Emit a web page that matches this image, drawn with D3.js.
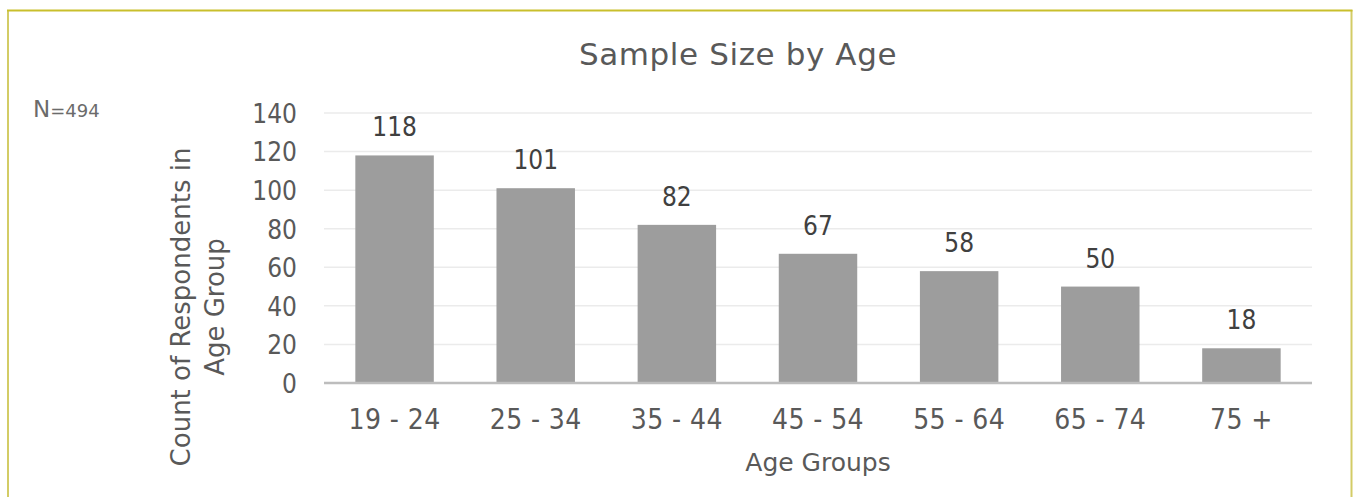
<!DOCTYPE html>
<html>
<head>
<meta charset="utf-8">
<script src="https://cdn.jsdelivr.net/npm/d3@7/dist/d3.min.js"></script>
<style>
  html, body { margin: 0; padding: 0; background: #fff; }
  svg { display: block; }
  text { font-family: "DejaVu Sans", Verdana, sans-serif; }
</style>
</head>
<body>
<svg id="chart" width="1353" height="497"></svg>
<script>
const categories = ["19 - 24", "25 - 34", "35 - 44", "45 - 54", "55 - 64", "65 - 74", "75 +"];
const counts = [118, 101, 82, 67, 58, 50, 18];
const yTicks = [0, 20, 40, 60, 80, 100, 120, 140];

const svg = d3.select("#chart");

// frame border
svg.append("line")
  .attr("x1", 8).attr("x2", 8).attr("y1", 10).attr("y2", 497)
  .attr("stroke", "#d3cc66").attr("stroke-width", 2);
svg.append("line")
  .attr("x1", 1351.5).attr("x2", 1351.5).attr("y1", 10).attr("y2", 497)
  .attr("stroke", "#d3cc66").attr("stroke-width", 2);
svg.append("line")
  .attr("x1", 7).attr("x2", 1352.5).attr("y1", 10.5).attr("y2", 10.5)
  .attr("stroke", "#c9bf2c").attr("stroke-width", 2);

const margin = { left: 324, right: 1312, top: 113, bottom: 383 };

const x = d3.scaleBand()
  .domain(categories)
  .range([margin.left, margin.right])
  .paddingInner(0.444)
  .paddingOuter(0.222);

const y = d3.scaleLinear()
  .domain([0, 140])
  .range([margin.bottom, margin.top]);

// gridlines
svg.append("g")
  .selectAll("line")
  .data(yTicks.filter(d => d > 0))
  .join("line")
  .attr("x1", margin.left)
  .attr("x2", margin.right)
  .attr("y1", d => y(d))
  .attr("y2", d => y(d))
  .attr("stroke", "#ebebeb")
  .attr("stroke-width", 1.5);

// bars
svg.append("g")
  .selectAll("rect")
  .data(counts)
  .join("rect")
  .attr("x", (d, i) => x(categories[i]))
  .attr("width", x.bandwidth())
  .attr("y", d => y(d))
  .attr("height", d => y(0) - y(d))
  .attr("fill", "#9d9d9d");

// baseline
svg.append("line")
  .attr("x1", margin.left)
  .attr("x2", margin.right)
  .attr("y1", y(0))
  .attr("y2", y(0))
  .attr("stroke", "#bdbdbd")
  .attr("stroke-width", 2.5);

// y axis
const yAxis = d3.axisLeft(y).tickValues(yTicks).tickSize(0).tickPadding(0);
const yg = svg.append("g")
  .attr("transform", `translate(297,0)`)
  .call(yAxis);
yg.select(".domain").remove();
yg.selectAll("text")
  .attr("fill", "#595959")
  .attr("font-size", 26)
  .attr("dy", "0.36em")
  .style("font-family", "DejaVu Sans Condensed, DejaVu Sans");

// x axis
const xAxis = d3.axisBottom(x).tickSize(0).tickPadding(0);
const xg = svg.append("g")
  .attr("transform", `translate(0,${y(0)})`)
  .call(xAxis);
xg.select(".domain").remove();
xg.selectAll("text")
  .attr("fill", "#595959")
  .attr("font-size", 28)
  .attr("dy", null)
  .attr("y", 46)
  .attr("letter-spacing", 0.4)
  .style("font-family", "DejaVu Sans Condensed, DejaVu Sans");

// data labels
svg.append("g")
  .selectAll("text")
  .data(counts)
  .join("text")
  .attr("x", (d, i) => x(categories[i]) + x.bandwidth() / 2)
  .attr("y", d => y(d) - 19)
  .attr("text-anchor", "middle")
  .attr("font-size", 26)
  .attr("fill", "#404040")
  .style("font-family", "DejaVu Sans Condensed, DejaVu Sans")
  .text(d => d);

// title
svg.append("text")
  .attr("x", 738)
  .attr("y", 65)
  .attr("text-anchor", "middle")
  .attr("font-size", 31)
  .attr("letter-spacing", 0.6)
  .attr("fill", "#595959")
  .text("Sample Size by Age");

// x title
svg.append("text")
  .attr("x", (margin.left + margin.right) / 2)
  .attr("y", 471)
  .attr("text-anchor", "middle")
  .attr("font-size", 25)
  .attr("fill", "#595959")
  .text("Age Groups");

// y title (two lines)
const yt = svg.append("text")
  .attr("transform", "translate(190,307) rotate(-90)")
  .attr("text-anchor", "middle")
  .attr("font-size", 26)
  .attr("fill", "#595959");
yt.append("tspan").attr("x", 0).attr("y", 0).text("Count of Respondents in");
yt.append("tspan").attr("x", 0).attr("y", 34).text("Age Group");

// N note
const n = svg.append("text")
  .attr("x", 33)
  .attr("y", 117)
  .attr("fill", "#6b6b6b");
n.append("tspan").attr("font-size", 23).text("N");
n.append("tspan").attr("font-size", 18).text("=494");
</script>
</body>
</html>
